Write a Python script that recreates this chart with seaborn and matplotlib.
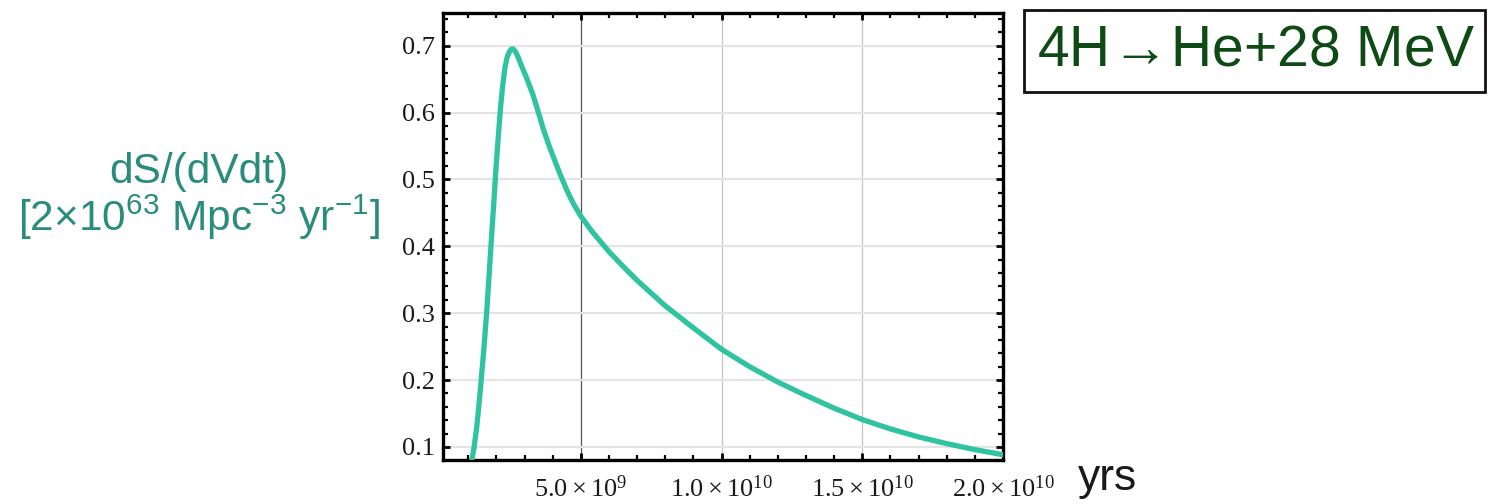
import matplotlib
matplotlib.use("Agg")
import matplotlib.pyplot as plt
import matplotlib.patches as mpatches
from matplotlib.ticker import MultipleLocator
import numpy as np
import pandas as pd
import seaborn as sns

# ---- data ----
time_gyr = [1.12, 1.20, 1.30, 1.42, 1.55, 1.66, 1.78, 1.89, 1.98, 2.07, 2.15, 2.22,
            2.30, 2.38, 2.46, 2.53, 2.60, 2.68, 2.78, 2.87, 2.95, 3.07, 3.31, 3.55,
            3.66, 3.90, 4.14, 4.26, 4.50, 4.73, 5.00, 5.40, 6.00, 6.50, 7.00, 7.50,
            8.00, 9.00, 10.00, 11.00, 12.00, 13.00, 14.00, 15.00, 16.00, 17.00,
            18.00, 19.00, 20.05]
rate = [0.080, 0.098, 0.130, 0.182, 0.245, 0.306, 0.385, 0.455, 0.515, 0.567, 0.610, 0.640,
        0.667, 0.683, 0.691, 0.695, 0.695, 0.691, 0.682, 0.672, 0.664, 0.652, 0.625, 0.592,
        0.576, 0.547, 0.521, 0.508, 0.484, 0.464, 0.445, 0.422, 0.392, 0.370, 0.349, 0.330,
        0.311, 0.278, 0.246, 0.220, 0.197, 0.177, 0.158, 0.141, 0.127, 0.115,
        0.105, 0.096, 0.088]
xtick_values = [5.0e9, 1.0e10, 1.5e10, 2.0e10]
xtick_labels = ["5.0$\\,$×$\\,$10$^{9}$", "1.0$\\,$×$\\,$10$^{10}$",
                "1.5$\\,$×$\\,$10$^{10}$", "2.0$\\,$×$\\,$10$^{10}$"]
ytick_values = [0.1, 0.2, 0.3, 0.4, 0.5, 0.6, 0.7]
ytick_labels = ["0.1", "0.2", "0.3", "0.4", "0.5", "0.6", "0.7"]
ylabel_text = "dS/(dVdt)\n[2×10$^{63}$ Mpc$^{-3}$ yr$^{-1}$]"
xlabel_text = "yrs"
title_text = "4H$\\!\\rightarrow\\!$He+28 MeV"

df = pd.DataFrame({"t": np.array(time_gyr) * 1e9, "rate": rate})

sns.set_theme(style="white")
plt.rcParams["mathtext.default"] = "regular"

fig = plt.figure(figsize=(14.91, 5.04), dpi=100)
fig.patch.set_facecolor("white")
ax = fig.add_axes([443 / 1491, 1 - 460 / 504, 560 / 1491, 447 / 504])
ax.set_facecolor("white")

sns.lineplot(data=df, x="t", y="rate", ax=ax, color="#2fc3a1", lw=3.8,
             solid_capstyle="butt", solid_joinstyle="round", zorder=3)

ax.set_xlim(0.1e9, 2.0e10)
ax.set_ylim(0.0805, 0.749)

ax.set_xticks(xtick_values)
ax.set_xticklabels(xtick_labels, family="Liberation Serif", fontsize=19, color="#1a1a1a")
ax.set_yticks(ytick_values)
ax.set_yticklabels(ytick_labels, family="Liberation Serif", fontsize=19, color="#1a1a1a")
ax.xaxis.set_minor_locator(MultipleLocator(1e9))
ax.yaxis.set_minor_locator(MultipleLocator(0.02))

ax.tick_params(axis="both", which="major", direction="in", length=5, width=2.0,
               color="black", top=True, right=True, bottom=True, left=True)
ax.tick_params(axis="both", which="minor", direction="in", length=3.5, width=1.6,
               color="black", top=True, right=True, bottom=True, left=True)
ax.tick_params(axis="x", which="major", pad=11)
ax.tick_params(axis="y", which="major", pad=6)

for s in ax.spines.values():
    s.set_visible(True)
    s.set_linewidth(2.4)
    s.set_color("black")

ax.grid(True, axis="y", which="major", color="#e4e4e4", lw=1.6, zorder=0)
ax.grid(True, axis="x", which="major", color="#c4c4c4", lw=0.9, zorder=0)
gl = ax.xaxis.get_gridlines()
if len(gl) > 0:
    gl[0].set_color("#555555")
    gl[0].set_linewidth(0.9)

ax.set_xlabel("")
ax.set_ylabel("")

# y-axis label (two lines, teal, to the left)
fig.text(199 / 1491, 1 - 197 / 504, ylabel_text, ha="center", va="center",
         fontsize=30.5, color="#2a8c7c", family="Liberation Sans", linespacing=1.0)

# x-axis unit label
fig.text(1107 / 1491, 1 - 490 / 504, xlabel_text, ha="center", va="baseline",
         fontsize=32, color="#1a1a1a", family="Liberation Sans")

# boxed reaction label
rect = mpatches.Rectangle((1024 / 1491, 1 - 92 / 504), 461 / 1491, 82 / 504,
                          transform=fig.transFigure, fill=False,
                          edgecolor="#111111", lw=2.0)
fig.patches.append(rect)
fig.text(1256 / 1491, 1 - 50 / 504, title_text, ha="center", va="center",
         fontsize=41, color="#0e4a14", family="Liberation Sans")

fig.savefig("out.png", dpi=100, facecolor="white")
